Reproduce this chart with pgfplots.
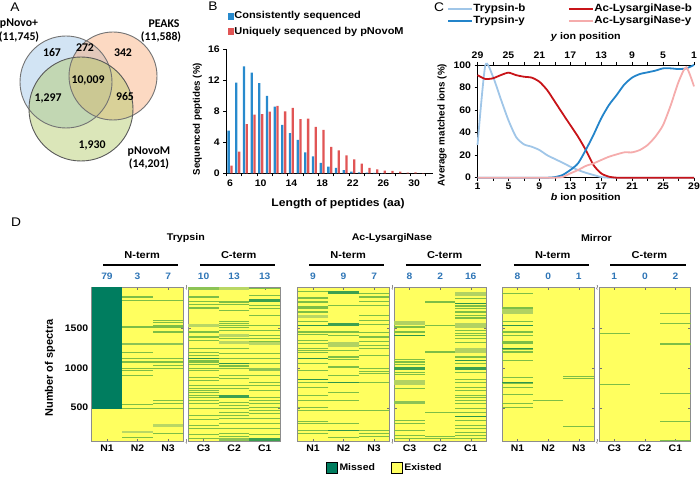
\documentclass[border=0pt]{standalone}
\usepackage{fontspec}
\setmainfont{Liberation Sans}[FakeStretch=1.1]
\newfontfamily\rotfont{Liberation Sans}
\newfontfamily\venfont{Carlito}
\usepackage{pgfplots}
\pgfplotsset{compat=1.18}

\definecolor{barblue}{RGB}{40,138,205}
\definecolor{barred}{RGB}{225,85,85}
\definecolor{tb}{RGB}{160,198,232}
\definecolor{ty}{RGB}{35,132,202}
\definecolor{ab}{RGB}{200,20,25}
\definecolor{ay}{RGB}{245,172,172}
\definecolor{hmY}{RGB}{255,255,95}
\definecolor{hmG}{RGB}{0,125,95}
\definecolor{hmM}{RGB}{125,190,70}
\definecolor{hmD}{RGB}{45,150,75}
\definecolor{hmB}{RGB}{185,215,100}
\definecolor{hmMB}{RGB}{140,195,85}
\definecolor{hmDB}{RGB}{60,160,80}
\definecolor{hmW}{RGB}{178,210,98}
\definecolor{numblue}{RGB}{46,117,182}
\definecolor{vblue}{RGB}{155,195,230}
\definecolor{vorange}{RGB}{248,170,120}
\definecolor{vgreen}{RGB}{175,200,100}

\newcommand\fs[1]{\bfseries\fontsize{#1}{#1}\selectfont}
\newcommand\fr[1]{\rotfont\bfseries\fontsize{#1}{#1}\selectfont}
\newcommand\fv{\venfont\bfseries\fontsize{11.8}{13}\selectfont}

\pgfplotsset{
  /pgf/number format/assume math mode=true,
  every tick label/.append style={font=\fs{9.5}},
  hm/.style={at={(#1,38.3pt)}, anchor=south west, scale only axis,
    width=91.7pt, height=154.4pt, xmin=0.5, xmax=3.5, ymin=72, ymax=2016,
    clip=false, axis background/.style={fill=hmY},
    xtick={1,2,3}, ytick={500,1000,1500}, yticklabels={},
    tick align=inside, major tick length=2.5pt,
    axis line style={draw=black!45, line width=0.7pt},
    every tick/.style={draw=black!55, line width=0.4pt}},
  hmlines/.style={scatter, only marks, mark=-, mark size=15.28pt,
    point meta=explicit symbolic,
    scatter/classes={
      m={draw=hmM, line width=1.1pt},
      d={draw=hmD, line width=1.1pt},
      b={draw=hmB, line width=2.5pt},
      B={draw=hmMB, line width=2.5pt},
      D={draw=hmDB, line width=3pt},
      W={draw=hmW, line width=4.5pt}}},
}

\newcommand\hmhead[4]{%
  \node[font=\fs{10}] at ([yshift=32.3pt]rel axis cs:0.55,1) {#1};
  \draw[line width=1.3pt] ([yshift=22.3pt]rel axis cs:0.125,1) -- ([yshift=22.3pt]rel axis cs:0.945,1);
  \node[font=\fs{9.3}, text=numblue] at ([yshift=10.6pt]axis cs:1,2016) {#2};
  \node[font=\fs{9.3}, text=numblue] at ([yshift=10.6pt]axis cs:2,2016) {#3};
  \node[font=\fs{9.3}, text=numblue] at ([yshift=10.6pt]axis cs:3,2016) {#4};
}
\newcommand\hmbreak{%
  \node[font=\scriptsize, inner sep=0pt] at ([xshift=-1.8pt]rel axis cs:0,1) {$\wr$};
  \node[font=\scriptsize, inner sep=0pt] at ([xshift=-1.8pt]rel axis cs:0,0) {$\wr$};
}

\begin{document}
\begin{tikzpicture}
\path[use as bounding box] (0,0) rectangle (700pt,480pt);

% ---------------- Panel letters
\node[font=\fontsize{12.5}{14}\selectfont] at (15pt,472.5pt) {A};
\node[font=\fontsize{12.5}{14}\selectfont] at (213pt,474pt) {B};
\node[font=\fontsize{12.5}{14}\selectfont] at (439pt,472.5pt) {C};
\node[font=\fontsize{12.5}{14}\selectfont] at (16pt,258pt) {D};

% ---------------- A: Venn
\begin{axis}[at={(0pt,275pt)}, anchor=south west, scale only axis,
  width=180pt, height=205pt, xmin=0, xmax=180, ymin=0, ymax=205,
  hide axis, clip=false]
\fill[vblue, fill opacity=0.45] (axis cs:66,123) circle[radius=46];
\fill[vorange, fill opacity=0.45] (axis cs:113,129) circle[radius=44];
\fill[vgreen, fill opacity=0.45] (axis cs:81,96) circle[radius=52];
\draw[black!55, line width=0.9pt] (axis cs:66,123) circle[radius=46];
\draw[black!55, line width=0.9pt] (axis cs:113,129) circle[radius=44];
\draw[black!65, line width=0.9pt] (axis cs:81,96) circle[radius=52];
\node[font=\fv] at (axis cs:19,181) {pNovo+};
\node[font=\fv] at (axis cs:19,168) {(11,745)};
\node[font=\fv] at (axis cs:164,181) {PEAKS};
\node[font=\fv] at (axis cs:161,168) {(11,588)};
\node[font=\fv] at (axis cs:52,152) {167};
\node[font=\fv] at (axis cs:85,157) {272};
\node[font=\fv] at (axis cs:123,152) {342};
\node[font=\fv] at (axis cs:88,125) {10,009};
\node[font=\fv] at (axis cs:48,107) {1,297};
\node[font=\fv] at (axis cs:125,108) {965};
\node[font=\fv] at (axis cs:92,60) {1,930};
\node[font=\fv] at (axis cs:149,53) {pNovoM};
\node[font=\fv] at (axis cs:149,41) {(14,201)};
\end{axis}

% ---------------- B: bars
\begin{axis}[at={(226.2pt,306.7pt)}, anchor=south west, scale only axis,
  width=207.1pt, height=124pt, xmin=5.5, xmax=32.5, ymin=0, ymax=16,
  axis x line*=bottom, axis y line*=left, axis line style={-, line width=0.8pt},
  ytick={0,4,...,16}, xtick={6,10,...,30}, minor xtick={5.5,7.5,...,31.5},
  tick align=outside, tick style={black, line width=0.6pt},
  major tick length=3pt, minor tick length=3pt,
  major x tick style={draw=none},
  xlabel={Length of peptides (aa)}, ylabel={Sequenced peptides (\%)},
  xlabel style={font=\fs{11}, at={(axis description cs:0.54,-0.242)}, anchor=center},
  ylabel style={font=\fr{9.7}, at={(axis description cs:-0.139,0.438)}, anchor=center},
  legend cell align=left,
  legend style={at={(axis description cs:0.007,1.3125)}, anchor=north west,
    draw=none, fill=none, inner sep=0pt, font=\fs{10}, row sep=5pt,
    nodes={inner sep=0.5pt, text height=7.5pt, text depth=2pt}}]
\addplot[ybar, bar width=2.3pt, bar shift=-1.4pt, fill=barblue, draw=none, forget plot] coordinates {
(6,5.5) (7,11.7) (8,13.8) (9,13.0) (10,11.65) (11,10.0) (12,8.6) (13,6.25) (14,5.2)
(15,4.3) (16,2.7) (17,2.2) (18,1.35) (19,0.85) (20,0.7) (21,0.4) (22,0.22) (23,0.13)
(24,0.08) (25,0.05) (26,0.03)};
\addplot[ybar, bar width=2.3pt, bar shift=1.4pt, fill=barred, draw=none, forget plot] coordinates {
(6,1.0) (7,2.8) (8,6.35) (9,7.57) (10,7.65) (11,7.96) (12,8.7) (13,8.0) (14,8.45)
(15,7.0) (16,7.05) (17,6.0) (18,5.6) (19,3.4) (20,2.96) (21,2.3) (22,1.8) (23,1.26)
(24,0.7) (25,0.52) (26,0.35) (27,0.3) (28,0.22) (29,0.08) (30,0.13) (31,0.03)};
\addlegendimage{legend image code/.code={\fill[barblue] (0pt,-2.8pt) rectangle (5.6pt,2.8pt);}}
\addlegendentry{Consistently sequenced}
\addlegendimage{legend image code/.code={\fill[barred] (0pt,-2.8pt) rectangle (5.6pt,2.8pt);}}
\addlegendentry{Uniquely sequenced by pNovoM}
\end{axis}

% ---------------- C: ion curves
\begin{axis}[at={(477.5pt,302.3pt)}, anchor=south west, scale only axis,
  width=216.5pt, height=112.7pt, xmin=1, xmax=29, ymin=0, ymax=100,
  x dir=reverse, axis x line*=top, axis y line=none, axis line style={-, line width=0.8pt},
  xtick={1,5,...,29}, minor xtick={3,7,...,27}, ytick=\empty,
  tick align=outside, tick style={black, line width=0.6pt},
  major tick length=3pt, minor tick length=3pt,
  xlabel={\textit{y} ion position},
  xlabel style={font=\fs{9.7}, at={(axis description cs:0.5,1.248)}, anchor=center}]
\end{axis}
\begin{axis}[at={(477.5pt,302.3pt)}, anchor=south west, scale only axis,
  width=216.5pt, height=112.7pt, xmin=1, xmax=29, ymin=0, ymax=100, clip=false,
  axis x line*=bottom, axis y line*=left, axis line style={-, line width=0.8pt},
  xtick={1,5,...,29}, minor xtick={3,7,...,27}, ytick={0,20,...,100},
  tick align=outside, tick style={black, line width=0.6pt},
  major tick length=3pt, minor tick length=3pt,
  xticklabel style={yshift=1.5pt},
  xlabel={\textit{b} ion position}, ylabel={Average matched ions (\%)},
  xlabel style={font=\fs{9.7}, at={(axis description cs:0.5,-0.178)}, anchor=center},
  ylabel style={font=\fr{9.8}, at={(axis description cs:-0.164,0.468)}, anchor=center},
  legend columns=2, legend cell align=left,
  legend style={at={(axis description cs:-0.141,1.545)}, anchor=north west,
    draw=none, fill=none, inner sep=0pt, font=\fs{10.5}, row sep=1.2pt,
    nodes={inner sep=0.5pt, text height=7.5pt, text depth=2pt},
    /tikz/column 2/.style={column sep=42pt}},
  legend image code/.code={\draw[#1] (0pt,0pt) -- (24pt,0pt);},
  every axis plot/.append style={line width=1.8pt, smooth, tension=0.4}]
\addplot[tb] coordinates {(1,29) (2,99.4) (3,89.6) (4,70) (5,51) (6,36) (7,29.6) (8,27.5)
(9,24.6) (10,20) (11,16.6) (12,13.3) (13,9.8) (14,6.8) (15,4.4) (16,2.4) (17,0.6) (18,0)
(19,0) (20,0) (21,0) (22,0) (23,0) (24,0) (25,0) (26,0) (27,0) (28,0) (29,0)};
\addlegendentry{Trypsin-b}
\addplot[ab] coordinates {(1,91) (2,87.6) (3,88.2) (4,91) (5,93.2) (6,91) (7,89.6) (8,88.8)
(9,85.2) (10,77.8) (11,67.5) (12,57) (13,46.7) (14,36.4) (15,24.6) (16,11.2) (17,3.8)
(18,0.9) (19,0) (20,0) (21,0) (22,0) (23,0) (24,0) (25,0) (26,0) (27,0) (28,0) (29,0)};
\addlegendentry{Ac-LysargiNase-b}
\addplot[ty] coordinates {(1,0) (2,0) (3,0) (4,0) (5,0) (6,0) (7,0) (8,0) (9,0) (10,0)
(11,0.5) (12,2.4) (13,6.8) (14,12.7) (15,24.6) (16,38) (17,52.7) (18,64.5) (19,73.4)
(20,82.8) (21,88.8) (22,92) (23,93.5) (24,95) (25,97) (26,97) (27,96.4) (28,97) (29,100)};
\addlegendentry{Trypsin-y}
\addplot[ay] coordinates {(1,0) (2,0) (3,0) (4,0) (5,0) (6,0) (7,0) (8,0) (9,0) (10,0)
(11,0) (12,0.6) (13,3.8) (14,6.8) (15,10.4) (16,12.7) (17,15.7) (18,18.6) (19,20.7)
(20,22.5) (21,22.5) (22,24.6) (23,29) (24,36.4) (25,46.7) (26,64.5) (27,85) (28,98) (29,81)};
\addlegendentry{Ac-LysargiNase-y}
\end{axis}

% ---------------- D: heatmaps
% Trypsin N
\begin{axis}[hm=91.7pt, xticklabels={N1,N2,N3}, yticklabels={500,1000,1500},
  ylabel={Number of spectra},
  ylabel style={font=\fr{11}, at={(axis description cs:-0.455,0.477)}, anchor=center}]
\addplot[fill=hmG, draw=none] coordinates {(0.5,479) (1.5,479) (1.5,2016) (0.5,2016)};
\addplot[hmlines] table[meta=c] {
x y c
2 1894 m
2 1852 m
2 1516 m
2 1302 B
2 1193 m
2 1125 m
2 1075 m
2 999 m
2 970 m
2 907 m
2 537 m
2 487 m
2 193 b
2 130 m
3 1852 m
3 1600 m
3 1571 m
3 1537 m
3 1516 m
3 1453 m
3 1302 B
3 1125 m
3 1075 m
3 1033 m
3 999 m
3 592 m
3 550 m
3 487 m
3 277 b
3 172 m
};
\hmhead{N-term}{79}{3}{7}
\node[font=\fs{9.7}] at ([yshift=49pt]rel axis cs:1.027,1) {Trypsin};
\end{axis}
% Trypsin C
\begin{axis}[hm=188.3pt, xticklabels={C3,C2,C1}]
\addplot[hmlines] table[meta=c] {
x y c
1 2000 B
1 1894 m
1 1839 m
1 1797 m
1 1755 m
1 1537 b
1 1453 m
1 1390 m
1 1348 m
1 1243 m
1 1193 m
1 1159 m
1 1125 d
1 1096 m
1 1075 m
1 1041 m
1 999 m
1 970 m
1 886 m
1 844 m
1 781 m
1 747 m
1 718 m
1 697 m
1 655 m
1 634 m
1 592 m
1 550 m
1 487 m
1 403 m
1 353 m
1 277 m
1 235 m
1 159 m
1 109 m
2 1999 b
2 1831 m
2 1797 m
2 1726 m
2 1587 m
2 1558 m
2 1537 m
2 1508 m
2 1474 m
2 1411 b
2 1369 m
2 1319 b
2 1243 m
2 1180 m
2 1117 m
2 1054 d
2 1025 m
2 991 m
2 907 m
2 865 m
2 781 m
2 739 m
2 642 D
2 571 m
2 529 m
2 487 m
2 445 m
2 403 m
2 361 m
2 298 m
2 235 m
2 172 m
2 139 m
2 101 B
3 2005 m
3 1915 m
3 1856 D
3 1789 m
3 1747 m
3 1663 m
3 1537 m
3 1474 m
3 1411 m
3 1369 m
3 1327 m
3 1306 b
3 1180 m
3 1117 m
3 1054 m
3 978 B
3 907 m
3 823 m
3 781 m
3 718 m
3 634 m
3 592 m
3 550 m
3 508 m
3 466 m
3 424 m
3 361 m
3 298 m
3 235 m
3 159 m
3 101 D
};
\hmhead{C-term}{10}{13}{13}
\hmbreak
\end{axis}
% Ac-LysargiNase N
\begin{axis}[hm=297.7pt, xticklabels={N1,N2,N3},
  legend columns=2, legend cell align=left,
  legend style={at={(axis description cs:0.95,-0.170)}, anchor=center,
    draw=none, fill=none, inner sep=0pt, font=\fs{9.5},
    nodes={inner sep=2pt}, /tikz/column 2/.style={column sep=14pt}}]
\addplot[hmlines, forget plot] table[meta=c] {
x y c
1 1965 m
1 1881 m
1 1831 m
1 1768 m
1 1747 m
1 1705 m
1 1646 b
1 1587 m
1 1537 d
1 1453 m
1 1419 m
1 1348 m
1 1306 m
1 1243 m
1 1222 m
1 1193 m
1 1125 d
1 1054 m
1 970 m
1 857 d
1 823 m
1 760 m
1 655 m
1 592 m
1 508 m
1 466 m
1 327 m
1 298 m
1 214 m
1 172 m
2 1953 D
2 1789 m
2 1550 D
2 1453 m
2 1411 m
2 1293 W
2 1222 m
2 1138 m
2 1109 m
2 1012 m
2 907 m
2 823 d
2 697 m
2 592 m
2 466 m
2 298 m
2 214 d
2 130 m
3 1936 m
3 1894 m
3 1839 m
3 1789 m
3 1663 m
3 1600 m
3 1545 m
3 1445 m
3 1390 m
3 1335 m
3 1285 m
3 1243 m
3 1159 m
3 991 m
3 957 m
3 928 m
3 823 m
3 466 m
3 214 m
3 172 m
3 143 m
};
\addlegendimage{legend image code/.code={\draw[fill=hmG, draw=black, line width=0.5pt] (0pt,-5pt) rectangle (11pt,6pt);}}
\addlegendentry{Missed}
\addlegendimage{legend image code/.code={\draw[fill=hmY, draw=black, line width=0.5pt] (0pt,-5pt) rectangle (11pt,6pt);}}
\addlegendentry{Existed}
\hmhead{N-term}{9}{9}{7}
\node[font=\fs{9.7}] at ([yshift=49pt]rel axis cs:1.027,1) {Ac-LysargiNase};
\end{axis}
% Ac-LysargiNase C
\begin{axis}[hm=394.3pt, xticklabels={C3,C2,C1}]
\addplot[hmlines] table[meta=c] {
x y c
1 1566 W
1 1516 m
1 1453 m
1 1411 d
1 1109 m
1 1075 m
1 1041 m
1 999 D
1 949 m
1 915 m
1 815 W
1 747 m
1 563 B
1 340 m
1 298 m
1 214 m
1 151 m
1 118 m
2 1831 m
2 1537 m
2 1201 m
2 437 m
2 143 m
2 118 m
3 1932 W
3 1873 m
3 1810 d
3 1781 m
3 1747 m
3 1705 m
3 1663 m
3 1629 m
3 1537 W
3 1474 m
3 1432 m
3 1411 m
3 1369 m
3 1319 m
3 1222 W
3 1138 m
3 1096 d
3 1054 m
3 991 D
3 949 m
3 857 m
3 823 m
3 760 m
3 718 m
3 655 m
3 634 m
3 592 m
3 550 m
3 487 m
3 445 m
3 395 d
3 340 m
3 277 m
3 235 m
3 193 m
3 151 m
3 109 m
};
\hmhead{C-term}{8}{2}{16}
\hmbreak
\end{axis}
% Mirror N
\begin{axis}[hm=502.3pt, xticklabels={N1,N2,N3}]
\addplot[hmlines] table[meta=c] {
x y c
1 1936 m
1 1755 m
1 1713 W
1 1587 m
1 1537 d
1 1453 m
1 1411 m
1 1327 m
1 1306 m
1 1251 d
1 1235 m
1 1201 m
1 1096 m
1 886 m
1 823 d
1 802 m
1 760 m
1 663 m
1 550 m
1 508 m
2 592 m
3 894 m
3 865 m
3 269 m
};
\hmhead{N-term}{8}{0}{1}
\node[font=\fs{9.7}] at ([yshift=49pt]rel axis cs:1.027,1) {Mirror};
\end{axis}
% Mirror C
\begin{axis}[hm=599pt, xticklabels={C3,C2,C1}]
\addplot[hmlines] table[meta=c] {
x y c
1 1440 m
1 794 m
3 1684 m
3 1558 m
3 1302 m
3 676 m
3 327 m
3 88 m
};
\hmhead{C-term}{1}{0}{2}
\hmbreak
\end{axis}
\end{tikzpicture}
\end{document}
